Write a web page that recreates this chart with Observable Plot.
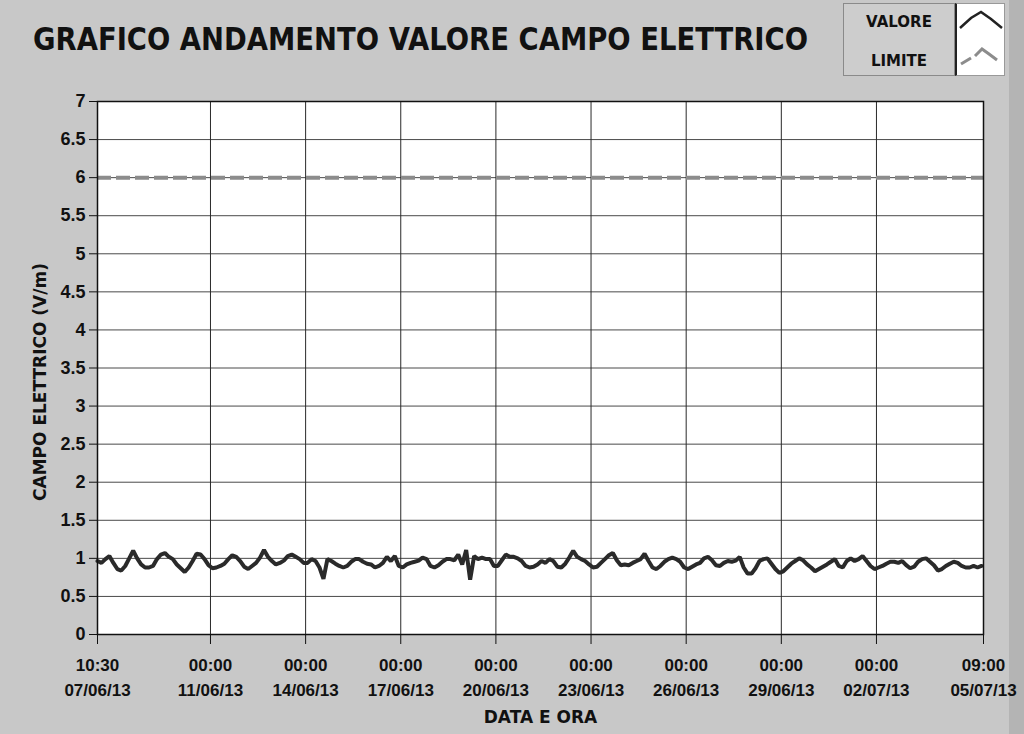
<!DOCTYPE html>
<html>
<head>
<meta charset="utf-8">
<script src="https://cdn.jsdelivr.net/npm/d3@7"></script>
<script src="https://cdn.jsdelivr.net/npm/@observablehq/plot@0.6"></script>
<style>
  html, body { margin: 0; padding: 0; }
  body { width: 1024px; height: 734px; overflow: hidden; background: #c8c8c8; position: relative; font-family: "DejaVu Sans", sans-serif; }
  #title { position: absolute; left: 33px; top: 20px; font-family: "DejaVu Sans", sans-serif; font-weight: bold; font-size: 32px; color: #111; white-space: nowrap; transform-origin: 0 0; }
  #legend { position: absolute; left: 843px; top: 3px; width: 112px; height: 73px; border: 1px solid #8a8a8a; background: #cdcdcd; box-sizing: border-box; }
  .legtext { position: absolute; left: 0; width: 110px; text-align: center; font-family: "DejaVu Sans", sans-serif; font-weight: bold; font-size: 15px; color: #111; }
  #legicons { position: absolute; left: 955px; top: 3px; width: 50px; height: 73px; background: #fff; border: 1px solid #999; border-left: 2px solid #222; box-sizing: border-box; }
  #chart { position: absolute; left: 0; top: 80px; }
  #strip { position: absolute; left: 1009px; top: 0; width: 15px; height: 734px; background: #b4b4b4; }
</style>
</head>
<body>
<div id="strip"></div>
<div id="title">GRAFICO ANDAMENTO VALORE CAMPO ELETTRICO</div>
<div id="legend">
  <div class="legtext" style="top:9px">VALORE</div>
  <div class="legtext" style="top:48px">LIMITE</div>
</div>
<div id="legicons">
  <svg width="48" height="71">
    <polyline points="3,24 14,14 24,8 34,15 45,24" fill="none" stroke="#222" stroke-width="2.5"/>
    <polyline points="4,60 14,54" fill="none" stroke="#8c8c8c" stroke-width="3"/>
    <polyline points="18,52 25,45 32,50 40,56" fill="none" stroke="#8c8c8c" stroke-width="3"/>
  </svg>
</div>
<div id="chart"></div>
<script>
// ---- data ----
const seriesNames = ["VALORE", "LIMITE"];
const startTime = "2013-06-07 10:30";
const endTime = "2013-07-05 09:00";
const sampleStepHours = 3;
const valore = [
  0.965, 0.94, 0.99, 1.03, 0.94, 0.86, 0.84, 0.9, 1.0, 1.1, 1.0, 0.92, 0.88, 0.88, 0.9,
  0.99, 1.05, 1.07, 1.02, 0.99, 0.92, 0.87, 0.82, 0.88, 0.965, 1.06, 1.05, 0.99, 0.91, 0.87,
  0.88, 0.9, 0.93, 0.99, 1.04, 1.02, 0.965, 0.89, 0.86, 0.9, 0.94, 1.01, 1.11, 1.02, 0.965,
  0.92, 0.94, 0.97, 1.03, 1.05, 1.02, 0.99, 0.94, 0.94, 0.99, 0.965, 0.88, 0.73, 0.99, 0.965,
  0.93, 0.9, 0.88, 0.9, 0.955, 0.99, 0.99, 0.955, 0.93, 0.92, 0.88, 0.9, 0.94, 1.02, 0.965,
  1.03, 0.9, 0.88, 0.92, 0.94, 0.955, 0.97, 1.01, 0.99, 0.9, 0.88, 0.91, 0.955, 0.99,
  0.99, 0.975, 1.05, 0.92, 1.11, 0.72, 1.03, 0.99, 1.01, 0.99, 0.99, 0.9, 0.9, 0.975, 1.05,
  1.02, 1.02, 1.0, 0.965, 0.9, 0.88, 0.89, 0.92, 0.965, 0.94, 0.99, 0.965, 0.89, 0.88, 0.93,
  1.01, 1.1, 1.02, 0.99, 0.965, 0.92, 0.88, 0.89, 0.94, 0.99, 1.04, 1.07, 0.975, 0.91, 0.92,
  0.91, 0.94, 0.965, 0.99, 1.06, 0.965, 0.88, 0.86, 0.9, 0.955, 0.99, 1.01, 0.99, 0.955, 0.88,
  0.86, 0.89, 0.92, 0.94, 1.0, 1.02, 0.975, 0.91, 0.9, 0.94, 0.965, 0.955, 0.97, 1.02, 0.88,
  0.8, 0.8, 0.87, 0.965, 0.99, 1.0, 0.93, 0.86, 0.81, 0.83, 0.88, 0.93, 0.965,
  1.0, 0.975, 0.92, 0.88, 0.83, 0.86, 0.89, 0.92, 0.955, 0.99, 0.9, 0.88, 0.965, 1.0, 0.965,
  0.99, 1.03, 0.965, 0.9, 0.86, 0.88, 0.9, 0.93, 0.955, 0.955, 0.94, 0.965, 0.91, 0.87, 0.89,
  0.955, 0.99, 1.0, 0.955, 0.91, 0.84, 0.86, 0.9, 0.93, 0.955, 0.94, 0.9, 0.88, 0.88, 0.9,
  0.88, 0.9
];
const limite = 6;
const xTickTimes = ["2013-06-07 10:30", "2013-06-11 00:00", "2013-06-14 00:00", "2013-06-17 00:00",
  "2013-06-20 00:00", "2013-06-23 00:00", "2013-06-26 00:00", "2013-06-29 00:00",
  "2013-07-02 00:00", "2013-07-05 09:00"];
const yTicks = [0, 0.5, 1, 1.5, 2, 2.5, 3, 3.5, 4, 4.5, 5, 5.5, 6, 6.5, 7];
const yLabel = "CAMPO ELETTRICO (V/m)";
const xLabel = "DATA E ORA";

// ---- build ----
const parse = d3.timeParse("%Y-%m-%d %H:%M");
const t0 = parse(startTime);
const t1 = parse(endTime);
const data = valore.map((v, i) => ({date: d3.timeHour.offset(t0, i * sampleStepHours), value: v}));
const xTicks = xTickTimes.map(parse);
const fmt = d3.timeFormat("%H:%M\n%d/%m/%y");

const comic = "DejaVu Sans, sans-serif";

const chart = Plot.plot({
  width: 1024,
  height: 654,
  marginLeft: 97,
  marginRight: 41,
  marginTop: 21,
  marginBottom: 100,
  style: {background: "transparent", fontFamily: "Liberation Sans, Arial, sans-serif", fontWeight: "bold", color: "#111"},
  x: {type: "time", domain: [t0, t1]},
  y: {domain: [0, 7]},
  marks: [
    Plot.frame({fill: "white", stroke: null}),
    Plot.gridY(yTicks, {stroke: "#4a4a4a", strokeOpacity: 1, strokeWidth: 1}),
    Plot.gridX(xTicks, {stroke: "#2a2a2a", strokeOpacity: 1, strokeWidth: 1}),
    Plot.ruleY([limite], {stroke: "#8c8c8c", strokeWidth: 4, strokeDasharray: "14,5"}),
    Plot.line(data, {x: "date", y: "value", stroke: "#2a2a2a", strokeWidth: 4, strokeLinejoin: "miter"}),
    Plot.axisY(yTicks, {tickSize: 8, tickPadding: 4, fontSize: 18, label: null, stroke: "#111", tickFormat: d => String(d)}),
    Plot.axisX(xTicks, {tickSize: 10, tickPadding: 8, fontSize: 17, lineHeight: 1.5, label: null, stroke: "#111",
      fontFamily: "Liberation Sans Narrow, Liberation Sans, Arial, sans-serif", tickFormat: d => fmt(d)}),
    Plot.frame({stroke: "#111", strokeWidth: 1.5}),
    Plot.text([yLabel], {text: d => d, frameAnchor: "left", dx: -57, dy: 14, rotate: -90,
      textAnchor: "middle", lineAnchor: "middle",
      fontSize: 17, fontWeight: "bold", fontFamily: comic, fill: "#111"}),
    Plot.text([xLabel], {text: d => d, frameAnchor: "bottom", dy: 83, lineAnchor: "middle",
      fontSize: 17, fontWeight: "bold", fontFamily: comic, fill: "#111"})
  ]
});
document.getElementById("chart").appendChild(chart);

// fit title width to the reference span
const title = document.getElementById("title");
const w = title.getBoundingClientRect().width;
title.style.transform = `scaleX(${775 / w})`;
</script>
</body>
</html>
